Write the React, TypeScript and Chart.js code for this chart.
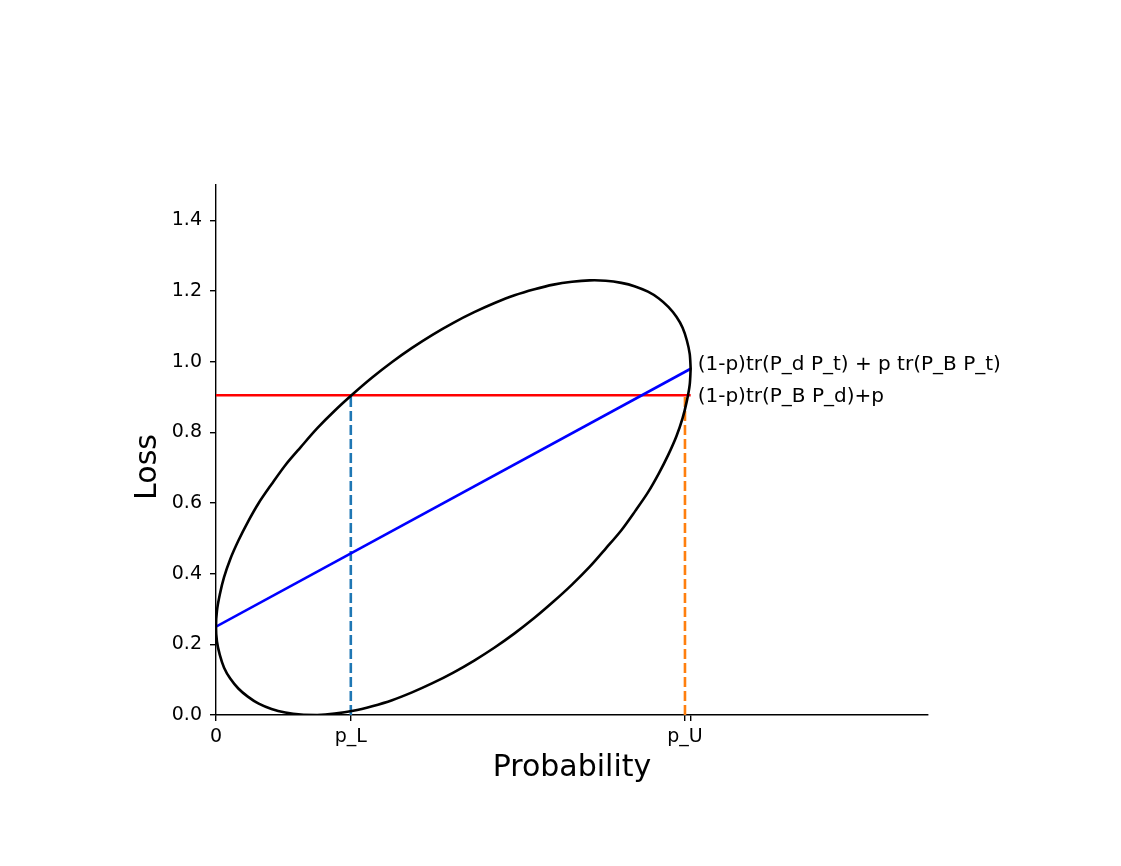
import React, { useEffect, useRef } from "react";
import { Chart, registerables } from "chart.js";

Chart.register(...registerables);

// Ellipse outline points
const ellipseX = [
  1.0, 0.998, 0.992, 0.983, 0.97, 0.953, 0.933, 0.91, 0.883, 0.854, 0.821, 0.787, 0.75, 0.711, 0.671, 0.629, 0.587, 0.544,
  0.5, 0.456, 0.413, 0.371, 0.329, 0.289, 0.25, 0.213, 0.179, 0.146, 0.117, 0.09, 0.067, 0.047, 0.03, 0.017, 0.008, 0.002,
  0.0, 0.002, 0.008, 0.017, 0.03, 0.047, 0.067, 0.09, 0.117, 0.146, 0.179, 0.213, 0.25, 0.289, 0.329, 0.371, 0.413, 0.456,
  0.5, 0.544, 0.587, 0.629, 0.671, 0.711, 0.75, 0.787, 0.821, 0.854, 0.883, 0.91, 0.933, 0.953, 0.97, 0.983, 0.992, 0.998, 1.0,
];
const ellipseY = [
  0.98, 1.022, 1.06, 1.096, 1.127, 1.155, 1.179, 1.198, 1.213, 1.223, 1.229, 1.23, 1.226, 1.218, 1.205, 1.188, 1.166, 1.14,
  1.11, 1.076, 1.039, 0.999, 0.955, 0.909, 0.861, 0.811, 0.759, 0.707, 0.653, 0.6, 0.546, 0.493, 0.441, 0.39, 0.341, 0.295,
  0.25, 0.208, 0.17, 0.134, 0.103, 0.075, 0.052, 0.032, 0.017, 0.007, 0.001, 0.0, 0.004, 0.012, 0.025, 0.042, 0.064, 0.09,
  0.12, 0.154, 0.191, 0.231, 0.275, 0.321, 0.369, 0.419, 0.471, 0.523, 0.577, 0.63, 0.684, 0.737, 0.789, 0.84, 0.889, 0.935, 0.98,
];

const pL = 0.284;
const pU = 0.988;
const lossLevel = 0.905;
const blueLineX = [0, 1];
const blueLineY = [0.25, 0.98];
const redLineX = [0, 1];

const xTickValues = [0, pL, pU, 1];
const xTickLabels = ["0", "p_L", "p_U", ""];
const yTickValues = [0, 0.2, 0.4, 0.6, 0.8, 1.0, 1.2, 1.4];

const annotations = [
  { x: 1, y: 0.98, dy: -4, text: "(1-p)tr(P_d P_t) + p tr(P_B P_t)" },
  { x: 1, y: 0.905, dy: 2, text: "(1-p)tr(P_B P_d)+p" },
];

const FONT = "'DejaVu Sans', sans-serif";

export default function App() {
  const ref = useRef<HTMLCanvasElement | null>(null);

  useEffect(() => {
    if (!ref.current) return;
    const pts = (xs: number[], ys: number[]) => xs.map((x, i) => ({ x, y: ys[i] }));

    const textPlugin = {
      id: "texts",
      afterDraw(chart: any) {
        const ctx = chart.ctx;
        const xs = chart.scales.x;
        const ys = chart.scales.y;
        const ca = chart.chartArea;
        ctx.save();
        ctx.fillStyle = "#000";
        ctx.font = `20px ${FONT}`;
        ctx.textAlign = "left";
        ctx.textBaseline = "middle";
        annotations.forEach((a) => {
          ctx.fillText(a.text, xs.getPixelForValue(a.x) + 7, ys.getPixelForValue(a.y) + a.dy);
        });
        ctx.font = `30px ${FONT}`;
        ctx.textAlign = "center";
        ctx.textBaseline = "middle";
        ctx.fillText("Probability", (ca.left + ca.right) / 2, 768);
        ctx.translate(148, 467);
        ctx.rotate(-Math.PI / 2);
        ctx.fillText("Loss", 0, 0);
        ctx.restore();
      },
    };

    const chart = new Chart(ref.current, {
      type: "scatter",
      data: {
        datasets: [
          {
            data: pts(ellipseX, ellipseY),
            showLine: true,
            borderColor: "#000000",
            borderWidth: 2.6,
            pointRadius: 0,
            tension: 0.3,
          },
          {
            data: pts(blueLineX, blueLineY),
            showLine: true,
            borderColor: "#0000ff",
            borderWidth: 2.6,
            pointRadius: 0,
          },
          {
            data: pts(redLineX, [lossLevel, lossLevel]),
            showLine: true,
            borderColor: "#ff0000",
            borderWidth: 2.6,
            pointRadius: 0,
          },
          {
            data: pts([pL, pL], [0, lossLevel]),
            showLine: true,
            borderColor: "#1f77b4",
            borderWidth: 2.6,
            borderDash: [10, 4],
            pointRadius: 0,
          },
          {
            data: pts([pU, pU], [0, lossLevel]),
            showLine: true,
            borderColor: "#ff7f0e",
            borderWidth: 2.6,
            borderDash: [10, 4],
            pointRadius: 0,
          },
        ],
      },
      options: {
        responsive: false,
        animation: false,
        layout: { padding: { left: 0, top: 185, right: 193, bottom: 0 } },
        plugins: { legend: { display: false }, tooltip: { enabled: false } },
        scales: {
          x: {
            type: "linear",
            min: 0,
            max: 1.5,
            afterFit: (s: any) => {
              s.height = 151;
            },
            afterBuildTicks: (s: any) => {
              s.ticks = xTickValues.map((v) => ({ value: v }));
            },
            ticks: {
              autoSkip: false,
              maxRotation: 0,
              color: "#000",
              font: { family: FONT, size: 19 },
              padding: 5,
              callback: (v: any) => {
                const i = xTickValues.indexOf(Number(v));
                return i >= 0 ? xTickLabels[i] : "";
              },
            },
            grid: { drawOnChartArea: false, drawTicks: true, tickLength: 6, color: "#000", lineWidth: 1.4 },
            border: { display: true, color: "#000", width: 1.4 },
          },
          y: {
            type: "linear",
            min: 0,
            max: 1.5,
            afterFit: (s: any) => {
              s.width = 216;
            },
            afterBuildTicks: (s: any) => {
              s.ticks = yTickValues.map((v) => ({ value: v }));
            },
            ticks: {
              autoSkip: false,
              color: "#000",
              font: { family: FONT, size: 19 },
              padding: 8,
              callback: (v: any) => Number(v).toFixed(1),
            },
            grid: { drawOnChartArea: false, drawTicks: true, tickLength: 6, color: "#000", lineWidth: 1.4 },
            border: { display: true, color: "#000", width: 1.4 },
          },
        },
      },
      plugins: [textPlugin],
    });
    return () => chart.destroy();
  }, []);

  return (
    <div style={{ position: "absolute", left: 0, top: 0, width: 1121, height: 866, background: "#fff" }}>
      <canvas ref={ref} width={1121} height={866} style={{ width: 1121, height: 866 }} />
    </div>
  );
}
